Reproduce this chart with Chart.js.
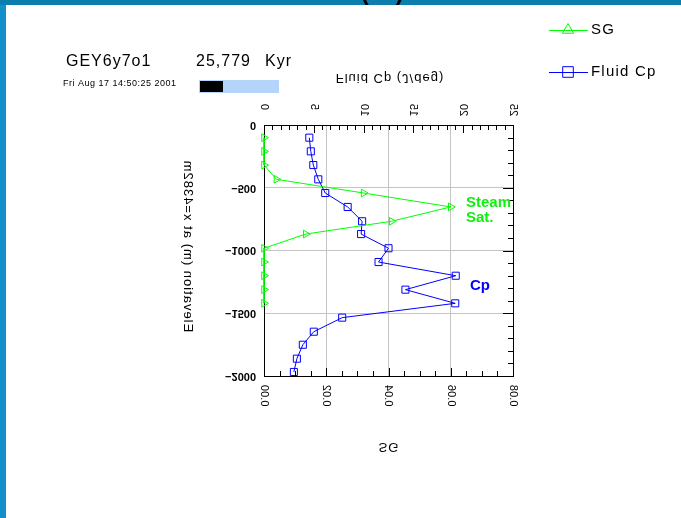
<!DOCTYPE html>
<html>
<head>
<meta charset="utf-8">
<title>GEY6y7o1</title>
<script src="https://cdn.jsdelivr.net/npm/chart.js@4/dist/chart.umd.min.js"></script>
<style>
  html, body { margin: 0; padding: 0; background: #fff; }
  #grafico { display: block; }
</style>
</head>
<body>
<canvas id="grafico" width="681" height="518"></canvas>
<script>
// profile along x=4382m: elevation (m) vs steam saturation and fluid heat capacity
const elevCp = [-101, -210, -319, -433, -542, -653, -767, -869, -982, -1092, -1201, -1312, -1421, -1535, -1647, -1751, -1862, -1968];
const fluidCp = [4.55, 4.7, 4.95, 5.45, 6.15, 8.4, 9.85, 9.75, 12.5, 11.5, 19.25, 14.2, 19.2, 7.85, 5.0, 3.9, 3.3, 3.0];

const elevSG = [-101, -210, -319, -433, -542, -653, -767, -869, -982, -1092, -1201, -1312, -1421];
const sgValues = [0, 0, 0, 0.004, 0.032, 0.060, 0.041, 0.0134, 0, 0, 0, 0, 0];

const cpTicks = [0, 5, 10, 15, 20, 25];
const sgTicks = [0, 0.02, 0.04, 0.06, 0.08];
const elevTicks = [0, -500, -1000, -1500, -2000];

const VERDE = '#00ff00';
const AZUL = '#0000ff';
const FONTE = '"Liberation Sans", Arial, sans-serif';

// text mirrored across its own baseline, as the plotting package writes it
function textoInvertido(ctx, txt, x, y, ang, align) {
    ctx.save();
    ctx.translate(x, y);
    ctx.rotate(ang);
    ctx.scale(1, -1);
    ctx.textAlign = align;
    ctx.textBaseline = 'middle';
    ctx.fillText(txt, 0, 0);
    ctx.restore();
}

const molduraPlugin = {
    id: 'moldura',
    afterDatasetsDraw(chart) {
        const ctx = chart.ctx;
        const a = chart.chartArea;
        const sx = chart.scales.x, sc = chart.scales.xCp, sy = chart.scales.y;
        ctx.save();
        ctx.strokeStyle = '#000';
        ctx.lineWidth = 1;
        ctx.beginPath();
        // ticks on the top axis (Cp)
        for (let i = 0; i <= 30; i++) {
            const v = i * 25 / 30;
            const px = Math.round(sc.getPixelForValue(v)) + 0.5;
            const len = i % 6 === 0 ? 8 : 5;
            ctx.moveTo(px, a.top); ctx.lineTo(px, a.top + len);
        }
        // ticks on the bottom axis (SG)
        for (let i = 0; i <= 16; i++) {
            const px = Math.round(sx.getPixelForValue(i * 0.005)) + 0.5;
            const len = i % 4 === 0 ? 8 : 5;
            ctx.moveTo(px, a.bottom); ctx.lineTo(px, a.bottom - len);
        }
        // ticks on the right edge every 100 m
        for (let i = 0; i <= 20; i++) {
            const py = Math.round(sy.getPixelForValue(-i * 100)) + 0.5;
            const len = i % 5 === 0 ? 10 : 5;
            ctx.moveTo(a.right, py); ctx.lineTo(a.right - len, py);
        }
        ctx.stroke();
        ctx.restore();
    },
    afterDraw(chart) {
        const ctx = chart.ctx;
        const sx = chart.scales.x, sc = chart.scales.xCp, sy = chart.scales.y;
        ctx.save();

        // window frame
        ctx.fillStyle = '#0b7eae';
        ctx.fillRect(0, 0, 681, 5);
        ctx.fillStyle = '#138fc9';
        ctx.fillRect(0, 5, 6, 513);
        ctx.fillStyle = '#000';
        ctx.font = 'bold 24px ' + FONTE;
        ctx.textAlign = 'center';
        ctx.textBaseline = 'alphabetic';
        ctx.fillText('T(°C)', 375, 0);

        // run header
        ctx.textAlign = 'left';
        ctx.textBaseline = 'middle';
        ctx.font = '16px ' + FONTE;
        ctx.letterSpacing = '1px';
        ctx.fillText('GEY6y7o1', 66, 62);
        ctx.fillText('25,779', 196, 62);
        ctx.fillText('Kyr', 265, 62);
        ctx.font = '9px ' + FONTE;
        ctx.letterSpacing = '0.5px';
        ctx.fillText('Fri Aug 17 14:50:25 2001', 63, 84);
        ctx.letterSpacing = '0px';
        ctx.fillStyle = '#b4d4fa';
        ctx.fillRect(199, 80, 80, 13);
        ctx.fillStyle = '#000';
        ctx.fillRect(200, 81, 23, 11);

        // legend
        const itens = [
            { t: 'SG', cor: VERDE, estilo: 'triangle', r: 6.5, y: 30 },
            { t: 'Fluid Cp', cor: AZUL, estilo: 'rect', r: 7.5, y: 72 }
        ];
        itens.forEach(it => {
            ctx.strokeStyle = it.cor;
            ctx.lineWidth = 1;
            ctx.beginPath();
            ctx.moveTo(549, it.y + 0.5); ctx.lineTo(588, it.y + 0.5);
            ctx.stroke();
            ctx.fillStyle = 'rgba(0,0,0,0)';
            Chart.helpers.drawPoint(ctx, { pointStyle: it.estilo, radius: it.r, rotation: 0, borderWidth: 1 }, 568, it.y);
            ctx.fillStyle = '#000';
            ctx.font = '15px ' + FONTE;
            ctx.letterSpacing = '1.2px';
            ctx.textAlign = 'left';
            ctx.textBaseline = 'middle';
            ctx.fillText(it.t, 591, it.y);
            ctx.letterSpacing = '0px';
        });

        // axis labels, written mirrored
        ctx.fillStyle = '#000';
        ctx.font = '11px ' + FONTE;
        cpTicks.forEach(v => textoInvertido(ctx, String(v), sc.getPixelForValue(v), 104, -Math.PI / 2, 'right'));
        sgTicks.forEach(v => textoInvertido(ctx, v.toFixed(2), sx.getPixelForValue(v), 385, -Math.PI / 2, 'right'));
        ctx.font = 'bold 11px ' + FONTE;
        elevTicks.forEach(v => textoInvertido(ctx, v === 0 ? '0' : '\u2212' + Math.abs(v), 256, sy.getPixelForValue(v), 0, 'right'));

        ctx.font = '13px ' + FONTE;
        ctx.letterSpacing = '1px';
        textoInvertido(ctx, 'Fluid Cp (J/deg)', 390, 78, 0, 'center');
        textoInvertido(ctx, 'SG', 389, 447, 0, 'center');
        textoInvertido(ctx, 'Elevation (m) at x=4382m', 188, 246, -Math.PI / 2, 'center');
        ctx.letterSpacing = '0px';

        // curve annotations
        ctx.textAlign = 'left';
        ctx.textBaseline = 'alphabetic';
        ctx.font = 'bold 15px ' + FONTE;
        ctx.fillStyle = '#11ee11';
        ctx.fillText('Steam', 466, 207);
        ctx.fillText('Sat.', 466, 222);
        ctx.fillStyle = AZUL;
        ctx.fillText('Cp', 470, 290);

        ctx.restore();
    }
};

const ctx = document.getElementById('grafico');

const chart = new Chart(ctx, {
    type: 'scatter',
    data: {
        datasets: [{
            label: 'SG',
            data: sgValues.map((v, i) => ({ x: v, y: elevSG[i] })),
            xAxisID: 'x',
            yAxisID: 'y',
            showLine: true,
            borderColor: VERDE,
            borderWidth: 1,
            backgroundColor: 'rgba(0,0,0,0)',
            pointStyle: 'triangle',
            rotation: 90,
            pointRadius: 4.5,
            pointBorderWidth: 1,
            clip: false
        }, {
            label: 'Fluid Cp',
            data: fluidCp.map((v, i) => ({ x: v, y: elevCp[i] })),
            xAxisID: 'xCp',
            yAxisID: 'y',
            showLine: true,
            borderColor: AZUL,
            borderWidth: 1,
            backgroundColor: 'rgba(0,0,0,0)',
            pointStyle: 'rect',
            pointRadius: 5,
            pointBorderWidth: 1,
            clip: false
        }]
    },
    options: {
        responsive: false,
        animation: false,
        layout: { padding: 0 },
        plugins: {
            legend: { display: false },
            tooltip: { enabled: false }
        },
        scales: {
            x: {
                type: 'linear',
                position: 'bottom',
                min: 0,
                max: 0.08,
                ticks: { display: false, stepSize: 0.02 },
                grid: { color: '#c4c4c4', drawTicks: false },
                border: { color: '#000', width: 1 },
                afterFit: s => { s.height = 142; }
            },
            xCp: {
                type: 'linear',
                position: 'top',
                min: 0,
                max: 25,
                ticks: { display: false, stepSize: 5 },
                grid: { display: false, drawTicks: false },
                border: { color: '#000', width: 1 },
                afterFit: s => { s.height = 125; }
            },
            y: {
                type: 'linear',
                position: 'left',
                min: -2000,
                max: 0,
                ticks: { display: false, stepSize: 500 },
                grid: { color: '#c4c4c4', drawTicks: false },
                border: { color: '#000', width: 1 },
                afterFit: s => { s.width = 264; }
            },
            yR: {
                type: 'linear',
                position: 'right',
                min: -2000,
                max: 0,
                ticks: { display: false },
                grid: { display: false, drawTicks: false },
                border: { color: '#000', width: 1 },
                afterFit: s => { s.width = 168; }
            }
        }
    },
    plugins: [molduraPlugin]
});
</script>
</body>
</html>
